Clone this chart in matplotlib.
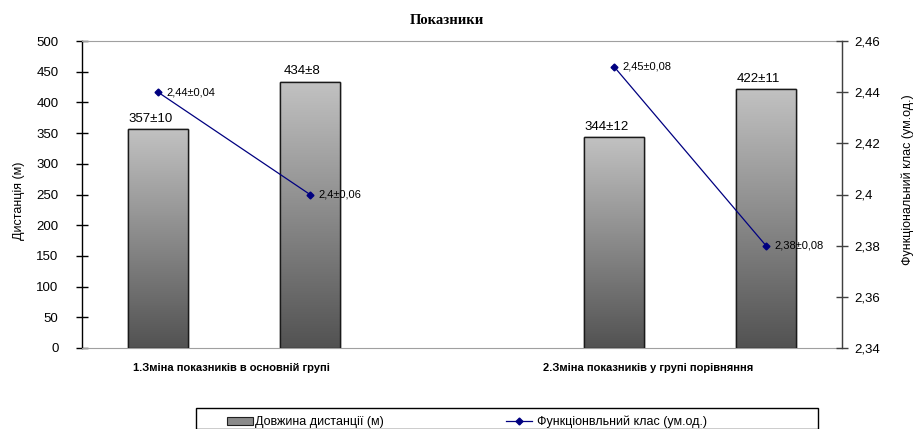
import matplotlib
matplotlib.use("Agg")
import matplotlib.pyplot as plt
import numpy as np
from matplotlib.colors import LinearSegmentedColormap
from matplotlib.lines import Line2D
from matplotlib.patches import Patch, Rectangle

# ---- data ----
bar_values = [357, 434, 344, 422]
bar_labels = ["357±10", "434±8", "344±12", "422±11"]
line_values = [2.44, 2.40, 2.45, 2.38]
line_labels = ["2,44±0,04", "2,4±0,06", "2,45±0,08", "2,38±0,08"]
group_labels = ["1.Зміна показників в основній групі", "2.Зміна показників у групі порівняння"]
left_ticks = [0, 50, 100, 150, 200, 250, 300, 350, 400, 450, 500]
right_ticks = [2.34, 2.36, 2.38, 2.40, 2.42, 2.44, 2.46]
right_tick_labels = ["2,34", "2,36", "2,38", "2,4", "2,42", "2,44", "2,46"]
title = "Показники"
left_ylabel = "Дистанція (м)"
right_ylabel = "Функціональний клас (ум.од.)"
legend_labels = ["Довжина дистанції (м)", "Функціонвльний клас (ум.од.)"]

plt.rcParams['font.family'] = ['Liberation Sans', 'DejaVu Sans']

W, H = 916, 429
fig = plt.figure(figsize=(W / 100, H / 100), dpi=100)
L, R, T, B = 82, 842, 41, 348
ax = fig.add_axes([L / W, 1 - B / H, (R - L) / W, (B - T) / H])

xpos = [0, 1, 3, 4]
bw = 0.4
cmap = LinearSegmentedColormap.from_list("g", ["#525252", "#c2c2c2"])
bars = ax.bar(xpos, bar_values, width=bw, color="#909090", edgecolor="#1a1a1a",
              linewidth=1.0, zorder=2)
grad = np.linspace(0, 1, 256).reshape(-1, 1)
for rect in bars:
    x0 = rect.get_x()
    h = rect.get_height()
    im = ax.imshow(grad, extent=[x0, x0 + bw, 0, h], origin="lower", aspect="auto",
                   cmap=cmap, zorder=2.5)
    im.set_clip_path(rect)
    ax.add_patch(Rectangle((x0, 0), bw, h, fill=False, edgecolor="#1a1a1a",
                           linewidth=1.0, zorder=3))

for x, v, lab in zip(xpos, bar_values, bar_labels):
    ax.annotate(lab, (x, v), xytext=(-5.5, 3), textcoords="offset points",
                ha="center", va="bottom", fontsize=9.5, color="#000000")

ax.set_xlim(-0.5, 4.5)
ax.set_ylim(0, 500)
ax.set_yticks(left_ticks)
ax.set_xticks([])
ax.tick_params(axis="y", direction="inout", length=8, width=1, labelsize=9.5, pad=13)
for s in ["top", "bottom", "right"]:
    ax.spines[s].set_color("#a0a0a0")
ax.spines["left"].set_color("#000000")
ax.spines["left"].set_linewidth(1.0)
ax.set_ylabel(left_ylabel, fontsize=9)
ax.yaxis.set_label_coords(-57 / (R - L), 0.48)

ax2 = ax.twinx()
# two separate segments (one per group)
ax2.plot(xpos[:2], line_values[:2], color="#000080", linewidth=0.9, marker="D",
         markersize=3.5, zorder=5)
ax2.plot(xpos[2:], line_values[2:], color="#000080", linewidth=0.9, marker="D",
         markersize=3.5, zorder=5)
for x, v, lab in zip(xpos, line_values, line_labels):
    ax2.annotate(lab, (x, v), xytext=(6, 0), textcoords="offset points",
                 ha="left", va="center", fontsize=8, color="#000000")
ax2.set_ylim(2.34, 2.46)
ax2.set_yticks(right_ticks)
ax2.set_yticklabels(right_tick_labels)
ax2.tick_params(axis="y", direction="inout", length=8, width=1, labelsize=9.5, pad=5,
                color="#404040")
ax2.spines["right"].set_color("#404040")
ax2.spines["right"].set_linewidth(1.0)
for s in ["top", "bottom", "left"]:
    ax2.spines[s].set_visible(False)
ax2.set_ylabel(right_ylabel, fontsize=9)
ax2.yaxis.set_label_coords(1 + 59 / (R - L), 0.547)

fig.text(231 / W, 1 - 368 / H, group_labels[0], ha="center", va="center",
         fontsize=8, fontweight="bold")
fig.text(648 / W, 1 - 368 / H, group_labels[1], ha="center", va="center",
         fontsize=8, fontweight="bold")

fig.text(447 / W, 1 - 21 / H, title, ha="center", va="center", fontsize=10.5,
         fontweight="bold", family=["Liberation Serif", "DejaVu Serif"])

# legend frame
fig.patches.append(Rectangle((196 / W, 0), (818 - 196) / W, (H - 408) / H,
                             transform=fig.transFigure, fill=False,
                             edgecolor="#000000", linewidth=1.0))
h1 = Patch(facecolor="#8a8a8a", edgecolor="#202020", linewidth=0.8)
h2 = Line2D([], [], color="#000080", marker="D", markersize=3.5, linewidth=0.9)
fig.legend([h1], [legend_labels[0]], loc="center left",
           bbox_to_anchor=(227 / W, 1 - 422 / H), fontsize=9, frameon=False,
           borderpad=0, borderaxespad=0, handlelength=2.1, handleheight=0.6,
           handletextpad=0.15)
fig.legend([h2], [legend_labels[1]], loc="center left",
           bbox_to_anchor=(506 / W, 1 - 422 / H), fontsize=9, frameon=False,
           borderpad=0, borderaxespad=0, handlelength=2.1, handletextpad=0.35)

fig.savefig("out.png", dpi=100)
